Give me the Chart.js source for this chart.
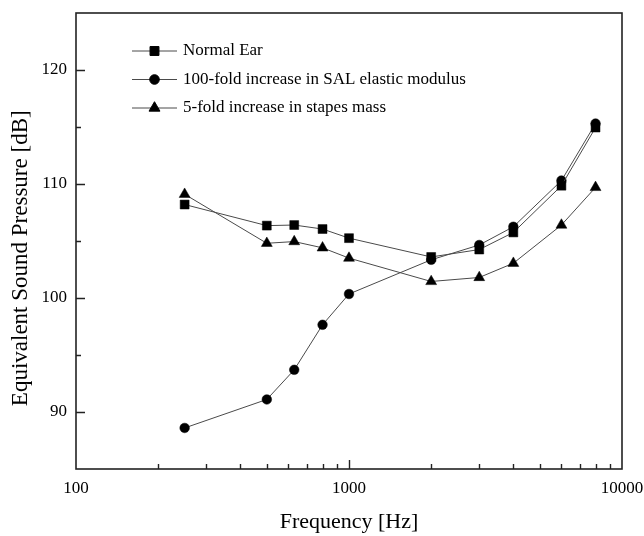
<!DOCTYPE html>
<html>
<head>
<meta charset="utf-8">
<script src="https://cdn.jsdelivr.net/npm/chart.js@4.4.1/dist/chart.umd.min.js"></script>
<style>
  html, body { margin: 0; padding: 0; background: #fff; }
  #wrap { width: 644px; height: 536px; }
</style>
</head>
<body>
<div id="wrap"><canvas id="chart" width="644" height="536"></canvas></div>
<script>
// ---- data ----
const freqs      = [250, 500, 630, 800, 1000, 2000, 3000, 4000, 6000, 8000];
const normalEar  = [108.2, 106.35, 106.4, 106.05, 105.25, 103.6, 104.25, 105.75, 109.85, 114.95];
const salModulus = [88.6, 91.1, 93.7, 97.65, 100.35, 103.35, 104.65, 106.25, 110.3, 115.3];
const stapesMass = [109.1, 104.8, 104.95, 104.4, 103.5, 101.45, 101.8, 103.05, 106.4, 109.7];

const seriesLabels = [
  'Normal Ear',
  '100-fold increase in SAL elastic modulus',
  '5-fold increase in stapes mass'
];

// tick positions
const xTickValues = [100, 200, 300, 400, 500, 600, 700, 800, 900,
                     1000, 2000, 3000, 4000, 5000, 6000, 7000, 8000, 9000, 10000];
const xTickLabels = ['100', '1000', '10000'];
const yTickLabels = ['90', '100', '110', '120'];

const SERIF = '"Liberation Serif", "Times New Roman", serif';
const LINE_GREY = '#4a4a4a';

const toXY = (ys) => freqs.map((f, i) => ({ x: f, y: ys[i] }));
const isDecade = (v) => Math.abs(Math.log10(v) - Math.round(Math.log10(v))) < 1e-9;

// ---- box + inward ticks ----
const frameTicks = {
  id: 'frameTicks',
  afterDraw(chart) {
    const { ctx, chartArea: a } = chart;
    const xs = chart.scales.x, ys = chart.scales.y;
    ctx.save();
    ctx.strokeStyle = '#222';
    ctx.lineWidth = 1.6;
    ctx.strokeRect(a.left, a.top, a.right - a.left, a.bottom - a.top);

    ctx.lineWidth = 1.4;
    ctx.beginPath();
    xs.ticks.forEach(t => {
      const px = Math.round(xs.getPixelForValue(t.value)) + 0.5;
      if (px <= a.left + 1 || px >= a.right - 1) return;
      const len = isDecade(t.value) ? 9 : 5;
      ctx.moveTo(px, a.bottom);
      ctx.lineTo(px, a.bottom - len);
    });
    ys.ticks.forEach(t => {
      const py = Math.round(ys.getPixelForValue(t.value)) + 0.5;
      if (py <= a.top + 1 || py >= a.bottom - 1) return;
      const len = (t.value % 10 === 0) ? 9 : 5;
      ctx.moveTo(a.left, py);
      ctx.lineTo(a.left + len, py);
    });
    ctx.stroke();
    ctx.restore();
  }
};

// ---- legend: line with marker, then label ----
const lineLegend = {
  id: 'lineLegend',
  afterDraw(chart) {
    const { ctx, chartArea: a } = chart;
    const x0 = a.left + 56, y0 = a.top + 38, rowH = 28.5;
    chart.data.datasets.forEach((ds, i) => {
      const y = y0 + i * rowH;
      ctx.save();
      ctx.strokeStyle = LINE_GREY;
      ctx.lineWidth = 1;
      ctx.beginPath();
      ctx.moveTo(x0, y);
      ctx.lineTo(x0 + 45, y);
      ctx.stroke();
      ctx.fillStyle = '#000';
      ctx.strokeStyle = '#000';
      Chart.helpers.drawPoint(ctx, {
        pointStyle: ds.pointStyle, radius: ds.pointRadius, borderWidth: 0.5, rotation: 0
      }, x0 + 22.5, y);
      ctx.font = '17px ' + SERIF;
      ctx.textBaseline = 'middle';
      ctx.textAlign = 'left';
      ctx.fillText(ds.label, x0 + 51, y);
      ctx.restore();
    });
  }
};

const mkSet = (label, ys, style, r) => ({
  label,
  data: toXY(ys),
  borderColor: LINE_GREY,
  borderWidth: 1,
  pointStyle: style,
  pointRadius: r,
  pointHoverRadius: r,
  pointBackgroundColor: '#000',
  pointBorderColor: '#000',
  pointBorderWidth: 0.5,
  tension: 0,
  fill: false
});

new Chart(document.getElementById('chart'), {
  type: 'line',
  data: {
    datasets: [
      mkSet(seriesLabels[0], normalEar,  'rect',     6.3),
      mkSet(seriesLabels[1], salModulus, 'circle',   4.8),
      mkSet(seriesLabels[2], stapesMass, 'triangle', 6.3)
    ]
  },
  options: {
    responsive: false,
    animation: false,
    layout: { padding: { left: 0, top: 13, right: 22, bottom: 0 } },
    plugins: {
      legend: { display: false },
      tooltip: { enabled: false }
    },
    scales: {
      x: {
        type: 'logarithmic',
        min: 100,
        max: 10000,
        afterBuildTicks: (s) => { s.ticks = xTickValues.map(v => ({ value: v, major: isDecade(v) })); },
        afterFit: (s) => { s.height = 67; s.paddingLeft = 0; s.paddingRight = 0; },
        grid: { display: false, drawTicks: false },
        border: { display: false },
        ticks: {
          autoSkip: false,
          maxRotation: 0,
          padding: 9,
          color: '#000',
          font: { family: SERIF, size: 17 },
          callback: (v) => (xTickLabels.includes(String(v)) ? String(v) : '')
        },
        title: {
          display: true,
          text: 'Frequency [Hz]',
          color: '#000',
          font: { family: SERIF, size: 22 },
          padding: { top: 0, bottom: 1 }
        }
      },
      y: {
        min: 85,
        max: 125,
        afterFit: (s) => { s.width = 76; s.paddingTop = 0; s.paddingBottom = 0; },
        grid: { display: false, drawTicks: false },
        border: { display: false },
        ticks: {
          stepSize: 5,
          padding: 9,
          color: '#000',
          font: { family: SERIF, size: 17 },
          callback: (v) => (yTickLabels.includes(String(v)) ? String(v) : '')
        },
        title: {
          display: true,
          // trailing spaces nudge the centred title down a little, as in the original
          text: 'Equivalent Sound Pressure [dB]      ',
          color: '#000',
          font: { family: SERIF, size: 23 },
          padding: { top: 7, bottom: 0 }
        }
      }
    }
  },
  plugins: [frameTicks, lineLegend]
});
</script>
</body>
</html>
